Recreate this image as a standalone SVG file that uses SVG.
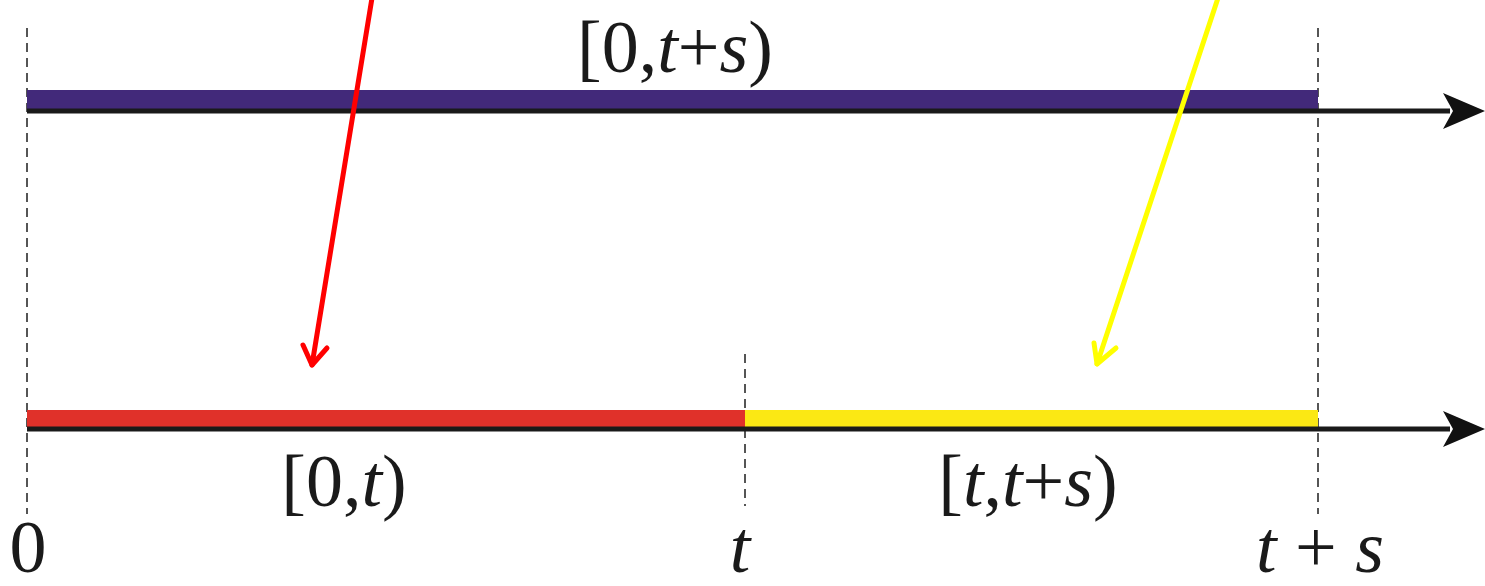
<svg xmlns="http://www.w3.org/2000/svg" width="1485" height="586" viewBox="0 0 1485 586">
<style>
.dash{stroke:#555;stroke-width:2;stroke-dasharray:9,6;fill:none}
.axis{stroke:#1a1a1a;stroke-width:5;fill:none}
.lbl{font-family:"Liberation Serif","DejaVu Serif",serif;font-size:74px;fill:#1a1a1a}
.it{font-style:italic}
.ptr{fill:none;stroke-width:5;stroke-linecap:round;stroke-linejoin:round}
</style>
<rect width="1485" height="586" fill="#ffffff"/>
<g id="guides">
<line class="dash" x1="27" y1="28" x2="27" y2="514"/>
<line class="dash" x1="1318" y1="28" x2="1318" y2="514"/>
<line class="dash" x1="745" y1="354" x2="745" y2="506"/>
</g>
<g id="top-axis">
<rect x="27" y="90" width="1291" height="19" fill="#42297a"/>
<line class="axis" x1="27" y1="111" x2="1450" y2="111"/>
<polygon points="1485,111 1443,93 1453,111 1443,129" fill="#111"/>
</g>
<g id="bottom-axis">
<rect x="27" y="410" width="718" height="17" fill="#e0312a"/>
<rect x="745" y="410" width="573" height="17" fill="#fbe814"/>
<line class="axis" x1="27" y1="429" x2="1450" y2="429"/>
<polygon points="1485,429 1443,411 1453,429 1443,447" fill="#111"/>
</g>
<g id="connectors">
<g stroke="#ff0000" class="ptr">
<line x1="372" y1="-2" x2="312" y2="365"/>
<polyline points="303,345 312,365 327,348"/>
</g>
<g stroke="#ffff00" class="ptr">
<line x1="1218" y1="-2" x2="1097" y2="364"/>
<polyline points="1094,343 1097,364 1116,348"/>
</g>
</g>
<g id="labels">
<text class="lbl" x="675" y="72" text-anchor="middle">[0,<tspan class="it">t</tspan>+<tspan class="it">s</tspan>)</text>
<text class="lbl" x="344" y="506" text-anchor="middle">[0,<tspan class="it">t</tspan>)</text>
<text class="lbl" x="1028" y="506" text-anchor="middle">[<tspan class="it">t</tspan>,<tspan class="it">t</tspan>+<tspan class="it">s</tspan>)</text>
<text class="lbl" x="28" y="572" text-anchor="middle">0</text>
<text class="lbl it" x="740" y="572" text-anchor="middle">t</text>
<text class="lbl" x="1320" y="572" text-anchor="middle"><tspan class="it">t</tspan> + <tspan class="it">s</tspan></text>
</g>
</svg>
